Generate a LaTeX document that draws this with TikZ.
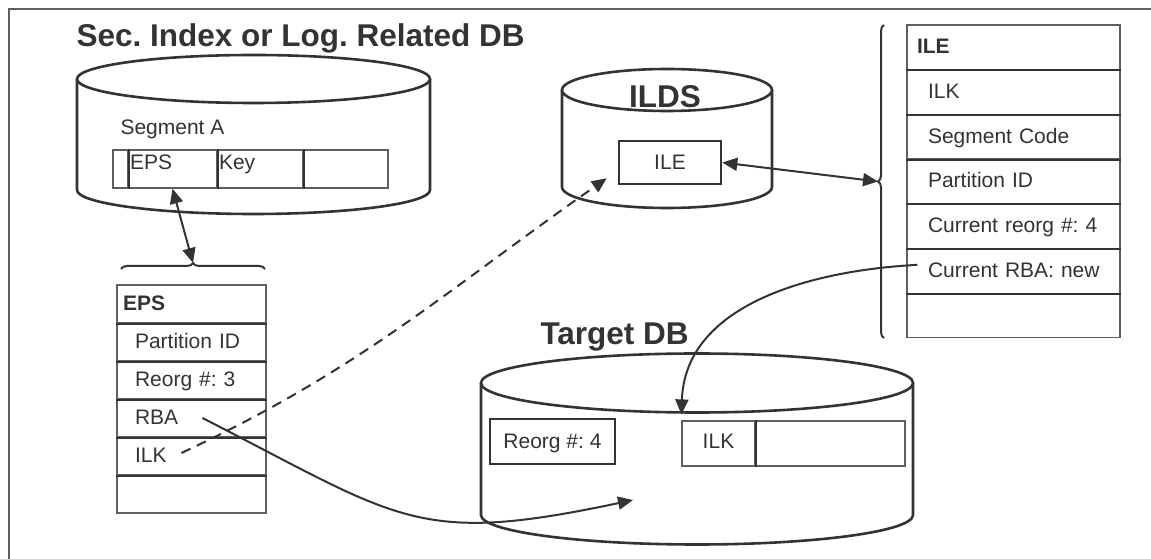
\documentclass[tikz,border=0pt]{standalone}
\usepackage{fontspec}
\setmainfont{Liberation Sans}
\usetikzlibrary{arrows.meta,decorations.pathreplacing}
\definecolor{dbInk} {RGB}{ 51, 51, 51}
\definecolor{dbRule}{RGB}{ 95, 95, 95}
\frenchspacing

\begin{document}
\begin{tikzpicture}[x=1pt,y=1pt,
  every node/.style={font=\fontsize{21}{25}\selectfont,text=dbInk},
  title/.style={font=\fontsize{31.5}{36}\selectfont\bfseries},
  disk/.style={draw=dbInk,line width=2.6pt,fill=white},
  cellbase/.style={draw=dbRule,line width=1.2pt,inner ysep=0pt,align=left},
  segcell/.style={cellbase,minimum height=38pt,inner xsep=2pt,
                  text height=15pt,text depth=13pt},
  epshead/.style={cellbase,minimum height=38pt,inner xsep=6pt,text width=137pt,
                  text height=15pt,text depth=2pt,font=\fontsize{21}{25}\selectfont\bfseries},
  epsrow/.style={epshead,font=\fontsize{21}{25}\selectfont,
                 execute at begin node={\hspace*{12pt}}},
  ilehead/.style={cellbase,minimum height=44.7pt,inner xsep=10pt,text width=193pt,
                  text height=15pt,text depth=2pt,font=\fontsize{21}{25}\selectfont\bfseries},
  ilerow/.style={ilehead,font=\fontsize{21}{25}\selectfont,
                 execute at begin node={\hspace*{11pt}}},
  tkcell/.style={draw=dbRule,line width=1.2pt,minimum height=45pt,text height=15pt,text depth=4pt},
  plainbox/.style={draw=dbInk,line width=2.6pt,text height=15pt,text depth=0pt},
  divider/.style={draw=dbInk,line width=2pt},
  brace/.style={draw=dbInk,line width=2pt,decorate,decoration={brace,amplitude=6pt}},
  link/.style={draw=dbInk,line width=2pt},
  >={Triangle[length=15pt,width=13pt]}
]
\useasboundingbox (0,0) rectangle (1151,559);
% frame
\draw[draw=dbRule,line width=1.8pt] (9,0) -- (9,550) -- (1151,550);

% Sec. Index / Log. Related DB
\node[title,anchor=base west] (sectitle) at (73,512) {Sec. Index or Log. Related DB};
\draw[disk] (77,480) -- (77,369) arc[start angle=180,end angle=360,x radius=176.5,y radius=24] -- (430,480);
\draw[disk] (253.5,480) ellipse[x radius=176.5,y radius=24];
\node[anchor=base west] (seglabel) at (117,424) {Segment A};
\node[segcell,minimum width=15pt,text width=11pt] (sa0) at (120.5,390) {};
\node[segcell,text width=85pt] (sa1) at (172.5,390) {EPS};
\node[segcell,text width=82pt] (sa2) at (260,390) {Key};
\node[segcell,text width=81pt] (sa3) at (345.5,390) {};
\draw[divider] (sa0.south east) -- (sa0.north east);
\draw[divider] (sa1.south east) -- (sa1.north east);
\draw[divider] (sa2.south east) -- (sa2.north east);

% EPS layout
\draw[brace] (121,290) -- (265,290);
\coordinate (epsbrace) at (193,296);
\node[epshead] (eps0) at (191.5,274-0.5*38) {EPS};
\node[epsrow]  (eps1) at (191.5,274-1.5*38) {Partition ID};
\node[epsrow]  (eps2) at (191.5,274-2.5*38) {Reorg \#: 3};
\node[epsrow]  (eps3) at (191.5,274-3.5*38) {RBA};
\node[epsrow]  (eps4) at (191.5,274-4.5*38) {ILK};
\node[epsrow]  (eps5) at (191.5,274-5.5*38) {};
\draw[divider] (eps0.south west) -- (eps0.south east);
\draw[divider] (eps1.south west) -- (eps1.south east);
\draw[divider] (eps2.south west) -- (eps2.south east);
\draw[divider] (eps3.south west) -- (eps3.south east);
\draw[divider] (eps4.south west) -- (eps4.south east);

% ILDS
\draw[disk] (562,469) -- (562,372) arc[start angle=180,end angle=360,x radius=105,y radius=21] -- (772,469);
\draw[disk] (667,469) ellipse[x radius=105,y radius=21];
\node[title,anchor=base] (ildstitle) at (665,451) {ILDS};
\node[plainbox,minimum width=102pt,minimum height=43pt] (ildsile) at (670,396.5) {ILE};

% ILE layout
\draw[brace] (884,221) -- (884,534);
\coordinate (ilebrace) at (878,377.5);
\node[ilehead] (ile0) at (1013.5,534-0.5*44.7) {ILE};
\node[ilerow]  (ile1) at (1013.5,534-1.5*44.7) {ILK};
\node[ilerow]  (ile2) at (1013.5,534-2.5*44.7) {Segment Code};
\node[ilerow]  (ile3) at (1013.5,534-3.5*44.7) {Partition ID};
\node[ilerow]  (ile4) at (1013.5,534-4.5*44.7) {Current reorg \#: 4};
\node[ilerow]  (ile5) at (1013.5,534-5.5*44.7) {Current RBA: new};
\node[ilerow]  (ile6) at (1013.5,534-6.5*44.7) {};
\draw[divider] (ile0.south west) -- (ile0.south east);
\draw[divider] (ile1.south west) -- (ile1.south east);
\draw[divider] (ile2.south west) -- (ile2.south east);
\draw[divider] (ile3.south west) -- (ile3.south east);
\draw[divider] (ile4.south west) -- (ile4.south east);
\draw[divider] (ile5.south west) -- (ile5.south east);

% Target DB
\node[title,anchor=base west] (tgttitle) at (537,214) {Target DB};
\draw[disk] (481,176) -- (481,44) arc[start angle=180,end angle=360,x radius=216,y radius=29.5] -- (913,176);
\draw[disk] (697,176) ellipse[x radius=216,y radius=29.5];
\node[plainbox,minimum width=125pt,minimum height=45pt] (treorg) at (552.5,117.5) {Reorg \#: 4};
\node[tkcell,minimum width=73pt] (tilk) at (718.5,115.5) {ILK};
\node[tkcell,minimum width=150pt] (tdata) at (830,115.5) {};
\draw[divider] (tilk.south east) -- (tilk.north east);
\coordinate (tgtin) at (633,59);

% links
\draw[link,<->] (epsbrace) -- (sa1.south);
\draw[link,<->] (ildsile.east) -- (ilebrace);
\draw[link,dash pattern=on 10pt off 7pt,->] ([shift={(65,3)}]eps4.west)
  to[out=25,in=215] ([shift={(-11,7)}]ildsile.south west);
\draw[link,->] ([xshift=86pt]eps3.west) to[out=-27,in=192,looseness=1.3] (tgtin);
\draw[link,->] ([shift={(11,6)}]ile5.west) to[out=183,in=88] ([yshift=6pt]tilk.north west);
\end{tikzpicture}
\end{document}
